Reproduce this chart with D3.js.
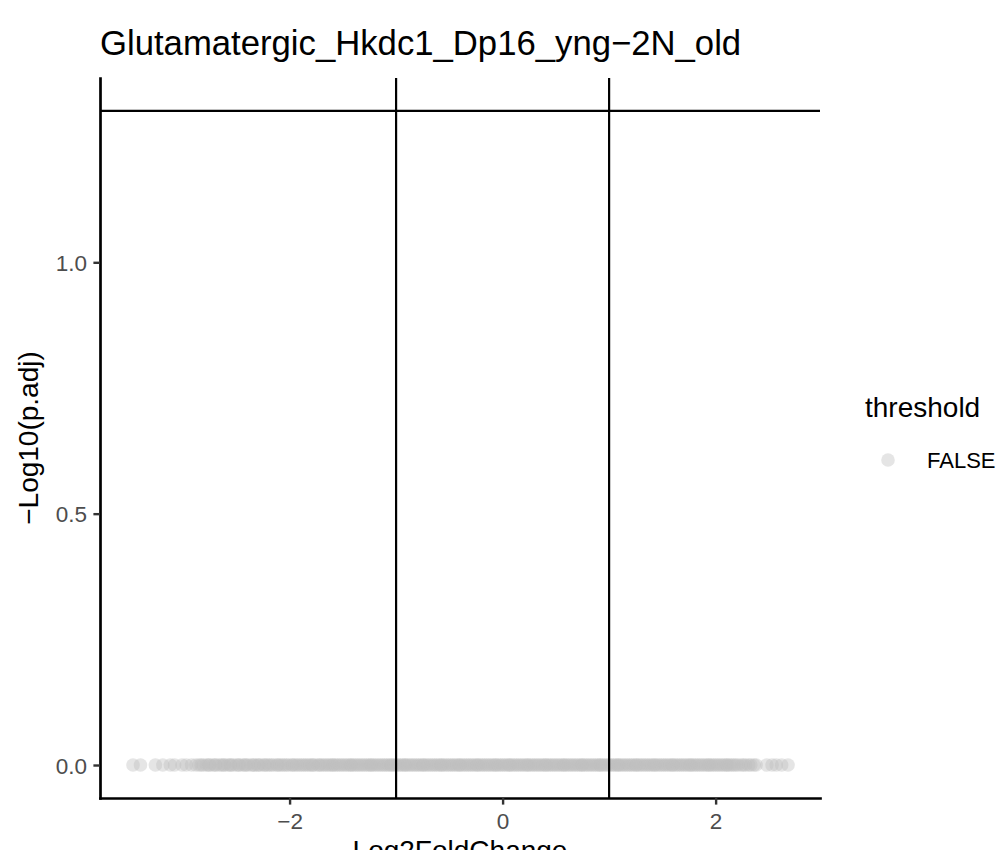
<!DOCTYPE html>
<html>
<head>
<meta charset="utf-8">
<script src="https://cdn.jsdelivr.net/npm/d3@7"></script>
<style>
  body { margin: 0; background: #fff; }
  svg { display: block; font-family: "Liberation Sans", Arial, sans-serif; }
</style>
</head>
<body>
<div id="chart"></div>
<script>
// Volcano plot: every gene sits at -log10(p.adj) = 0, spread along log2 fold change

const chartTitle = 'Glutamatergic_Hkdc1_Dp16_yng\u22122N_old';

// log2 fold change of each gene
const log2fcLeftTail = [-3.47, -3.40, -3.26, -3.19, -3.12, -3.08, -3.01, -2.97, -2.92];
const log2fcBand = [
  -2.88,-2.85,-2.83,-2.81,-2.78,-2.76,-2.75,-2.72,-2.70,-2.69,-2.66,-2.64,-2.62,-2.61,-2.58,-2.56,-2.55,-2.53,-2.50,-2.48,-2.47,-2.44,-2.42,-2.41,-2.39,-2.36,-2.34,-2.33,-2.30,-2.29,-2.27,-2.24,-2.23,-2.21,-2.19,-2.17,-2.15,-2.12,-2.11,-2.09,-2.07,-2.05,-2.03,-2.01,
  -1.98,-1.97,-1.95,-1.93,-1.91,-1.89,-1.87,-1.85,-1.83,-1.81,-1.79,-1.78,-1.76,-1.73,-1.72,-1.70,-1.68,-1.66,-1.64,-1.62,-1.60,-1.59,-1.57,-1.55,-1.53,-1.51,-1.49,-1.47,-1.45,-1.43,-1.42,-1.40,-1.38,-1.36,-1.34,-1.32,-1.30,-1.28,-1.26,-1.24,-1.23,-1.21,-1.19,-1.17,-1.15,-1.13,-1.11,-1.09,-1.07,-1.05,-1.04,-1.02,
  -1.00,-0.98,-0.96,-0.94,-0.92,-0.91,-0.89,-0.87,-0.85,-0.83,-0.81,-0.79,-0.77,-0.75,-0.74,-0.72,-0.70,-0.68,-0.66,-0.64,-0.62,-0.60,-0.58,-0.57,-0.55,-0.53,-0.51,-0.49,-0.47,-0.45,-0.43,-0.41,-0.40,-0.38,-0.36,-0.34,-0.32,-0.30,-0.28,-0.26,-0.24,-0.23,-0.21,-0.19,-0.17,-0.15,-0.13,-0.11,-0.09,-0.07,-0.06,-0.04,-0.02,
  0.00,0.02,0.04,0.06,0.07,0.09,0.11,0.13,0.15,0.17,0.19,0.21,0.23,0.24,0.26,0.28,0.30,0.32,0.34,0.36,0.38,0.40,0.41,0.43,0.45,0.47,0.49,0.51,0.53,0.55,0.57,0.58,0.60,0.62,0.64,0.66,0.68,0.70,0.72,0.74,0.75,0.77,0.79,0.81,0.83,0.85,0.87,0.89,0.91,0.92,0.94,0.96,0.98,
  1.00,1.02,1.04,1.06,1.08,1.09,1.11,1.13,1.15,1.17,1.19,1.21,1.23,1.25,1.26,1.28,1.30,1.32,1.34,1.36,1.38,1.40,1.42,1.43,1.45,1.47,1.49,1.51,1.53,1.55,1.57,1.59,1.60,1.62,1.64,1.66,1.68,1.70,1.72,1.74,1.76,1.77,1.79,1.81,1.83,1.85,1.87,1.89,1.91,1.93,1.94,1.96,1.98,
  2.00,2.02,2.04,2.06,2.08,2.10,2.11,2.13,2.15,2.17,2.19,2.21,2.24,2.26,2.28,2.31,2.33,2.36,2.38
];
const log2fcRightTail = [2.48, 2.53, 2.57, 2.62, 2.68];
// -log10(p.adj) of every gene is 0 in the picture
const negLog10Padj = 0;

// reference lines
const fcCutoffs = [-1, 1];
const padjCutoff = 1.30103; // -log10(0.05)

// axis ticks
const xTicks = [-2, 0, 2];
const xTickLabels = ['\u22122', '0', '2'];
const yTicks = [0, 0.5, 1.0];
const yTickLabels = ['0.0', '0.5', '1.0'];

const legendTitle = 'threshold';
const legendLabels = ['FALSE'];

// layout
const W = 1003, H = 850;
const panel = { left: 100, right: 820, top: 78, bottom: 798 };
const pointR = 6.8;
const pointFill = '#bebebe';
const pointAlpha = 0.4;

const svg = d3.select('#chart').append('svg')
  .attr('width', W)
  .attr('height', H);

svg.append('rect').attr('width', W).attr('height', H).attr('fill', '#fff');

const x = d3.scaleLinear().domain([-3.78, 2.98]).range([panel.left, panel.right]);
const y = d3.scaleLinear().domain([-0.0656, 1.3666]).range([panel.bottom, panel.top]);

const genes = [...log2fcLeftTail, ...log2fcBand, ...log2fcRightTail]
  .map(v => ({ fc: v, p: negLog10Padj }));

// points
svg.append('g')
  .selectAll('circle')
  .data(genes)
  .join('circle')
  .attr('cx', d => x(d.fc))
  .attr('cy', d => y(d.p))
  .attr('r', pointR)
  .attr('fill', pointFill)
  .attr('fill-opacity', pointAlpha);

// cutoff lines
svg.append('g')
  .selectAll('line')
  .data(fcCutoffs)
  .join('line')
  .attr('x1', d => x(d)).attr('x2', d => x(d))
  .attr('y1', panel.top).attr('y2', panel.bottom)
  .attr('stroke', '#000')
  .attr('stroke-width', 2.2);

svg.append('line')
  .attr('x1', panel.left).attr('x2', panel.right)
  .attr('y1', y(padjCutoff)).attr('y2', y(padjCutoff))
  .attr('stroke', '#000')
  .attr('stroke-width', 2.2);

// axes
const xAxis = svg.append('g')
  .attr('transform', `translate(0,${panel.bottom})`)
  .call(d3.axisBottom(x).tickValues(xTicks).tickFormat((d, i) => xTickLabels[i]).tickSize(6.6).tickSizeOuter(0));

const yAxis = svg.append('g')
  .attr('transform', `translate(${panel.left},0)`)
  .call(d3.axisLeft(y).tickValues(yTicks).tickFormat((d, i) => yTickLabels[i]).tickSize(6.6).tickSizeOuter(0));

[xAxis, yAxis].forEach(g => {
  g.select('.domain').attr('stroke', '#000').attr('stroke-width', 2.7).attr('stroke-linecap', 'square');
  g.selectAll('.tick line').attr('stroke', '#333').attr('stroke-width', 2.4);
  g.selectAll('.tick text')
    .attr('fill', '#4d4d4d')
    .attr('font-size', 22.5)
    .attr('font-family', '"Liberation Sans", Arial, sans-serif');
});

xAxis.selectAll('.tick text').attr('y', 30.5).attr('dy', 0);
yAxis.selectAll('.tick text').attr('x', -13).attr('dy', '0.36em');

// axis titles
svg.append('text')
  .attr('x', (panel.left + panel.right) / 2)
  .attr('y', 860)
  .attr('text-anchor', 'middle')
  .attr('font-size', 28)
  .attr('fill', '#000')
  .text('Log2FoldChange');

svg.append('text')
  .attr('transform', `translate(38,${(panel.top + panel.bottom) / 2}) rotate(-90)`)
  .attr('text-anchor', 'middle')
  .attr('font-size', 28)
  .attr('fill', '#000')
  .text('\u2212Log10(p.adj)');

// title
svg.append('text')
  .attr('x', panel.left)
  .attr('y', 55)
  .attr('font-size', 34.7)
  .attr('fill', '#000')
  .text(chartTitle);

// legend
const legend = svg.append('g');
legend.append('text')
  .attr('x', 865).attr('y', 417)
  .attr('font-size', 28)
  .attr('fill', '#000')
  .text(legendTitle);

const keys = legend.selectAll('g.key')
  .data(legendLabels)
  .join('g')
  .attr('class', 'key')
  .attr('transform', (d, i) => `translate(0,${460 + i * 34})`);

keys.append('circle')
  .attr('cx', 888).attr('cy', 0)
  .attr('r', pointR)
  .attr('fill', pointFill)
  .attr('fill-opacity', pointAlpha);

keys.append('text')
  .attr('x', 927).attr('y', 8)
  .attr('font-size', 22)
  .attr('fill', '#000')
  .text(d => d);
</script>
</body>
</html>
